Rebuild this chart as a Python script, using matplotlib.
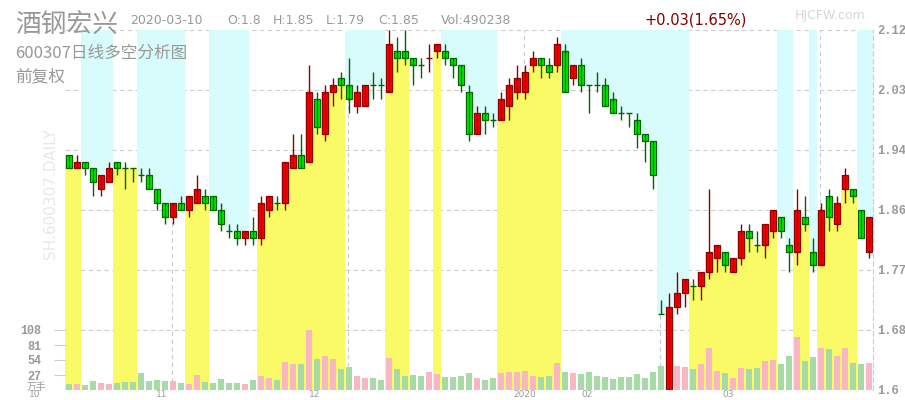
import matplotlib.pyplot as plt
from matplotlib.patches import Rectangle

plt.rcParams['font.family'] = ['DejaVu Sans', 'Noto Sans CJK SC']

# daily bars, 2019-10-11 .. 2020-03-10 (前复权)
opens = [1.94, 1.92, 1.93, 1.92, 1.89, 1.90, 1.93, 1.92, 1.92, 1.91,
         1.91, 1.89, 1.87, 1.85, 1.87, 1.86, 1.87, 1.88, 1.88, 1.86,
         1.83, 1.83, 1.82, 1.83, 1.82, 1.86, 1.87, 1.87, 1.92, 1.94,
         1.93, 2.02, 1.97, 2.03, 2.05, 2.04, 2.01, 2.01, 2.04, 2.04,
         2.03, 2.09, 2.09, 2.08, 2.07, 2.08, 2.09, 2.09, 2.08, 2.07,
         2.03, 1.97, 2.00, 1.99, 1.99, 2.01, 2.03, 2.03, 2.07, 2.08,
         2.07, 2.07, 2.09, 2.05, 2.07, 2.04, 2.04, 2.04, 2.02, 2.00,
         2.00, 1.99, 1.97, 1.96, 1.71, 1.60, 1.72, 1.74, 1.75, 1.75,
         1.77, 1.79, 1.80, 1.77, 1.79, 1.83, 1.81, 1.81, 1.83, 1.85,
         1.81, 1.80, 1.85, 1.80, 1.78, 1.88, 1.84, 1.89, 1.89, 1.86,
         1.80]
highs = [1.94, 1.94, 1.93, 1.92, 1.91, 1.93, 1.93, 1.93, 1.92, 1.92,
         1.92, 1.89, 1.87, 1.87, 1.88, 1.88, 1.91, 1.89, 1.88, 1.87,
         1.84, 1.84, 1.83, 1.85, 1.88, 1.88, 1.88, 1.93, 1.97, 1.97,
         2.07, 2.03, 2.04, 2.05, 2.06, 2.08, 2.04, 2.04, 2.06, 2.05,
         2.12, 2.11, 2.12, 2.08, 2.08, 2.10, 2.10, 2.10, 2.08, 2.07,
         2.04, 2.01, 2.01, 2.00, 2.03, 2.05, 2.07, 2.07, 2.09, 2.08,
         2.08, 2.11, 2.10, 2.07, 2.08, 2.04, 2.06, 2.05, 2.03, 2.01,
         2.00, 2.00, 1.97, 1.96, 1.73, 1.74, 1.77, 1.76, 1.76, 1.77,
         1.89, 1.81, 1.80, 1.79, 1.84, 1.84, 1.83, 1.84, 1.86, 1.85,
         1.82, 1.89, 1.88, 1.82, 1.87, 1.89, 1.88, 1.92, 1.89, 1.86,
         1.85]
lows = [1.92, 1.92, 1.91, 1.88, 1.88, 1.90, 1.91, 1.89, 1.90, 1.90,
        1.89, 1.86, 1.84, 1.84, 1.86, 1.85, 1.87, 1.86, 1.86, 1.83,
        1.82, 1.81, 1.81, 1.81, 1.81, 1.85, 1.86, 1.86, 1.92, 1.92,
        1.93, 1.97, 1.96, 2.01, 2.02, 2.00, 2.00, 2.01, 2.02, 2.02,
        2.03, 2.06, 2.07, 2.04, 2.05, 2.06, 2.08, 2.07, 2.05, 2.03,
        1.96, 1.97, 1.97, 1.98, 1.99, 1.99, 2.02, 2.02, 2.06, 2.05,
        2.05, 2.06, 2.03, 2.04, 2.03, 2.00, 2.03, 2.01, 2.00, 1.99,
        1.98, 1.95, 1.93, 1.89, 1.71, 1.60, 1.71, 1.72, 1.73, 1.73,
        1.76, 1.77, 1.77, 1.77, 1.78, 1.80, 1.80, 1.79, 1.82, 1.82,
        1.77, 1.78, 1.83, 1.77, 1.78, 1.83, 1.83, 1.87, 1.87, 1.82,
        1.79]
closes = [1.92, 1.93, 1.92, 1.90, 1.91, 1.92, 1.92, 1.92, 1.92, 1.91,
          1.89, 1.87, 1.85, 1.87, 1.86, 1.88, 1.89, 1.87, 1.86, 1.84,
          1.83, 1.82, 1.83, 1.82, 1.87, 1.88, 1.87, 1.93, 1.94, 1.92,
          2.03, 1.98, 2.03, 2.04, 2.04, 2.02, 2.03, 2.04, 2.04, 2.04,
          2.10, 2.08, 2.08, 2.07, 2.07, 2.08, 2.10, 2.08, 2.07, 2.04,
          1.97, 2.00, 1.99, 1.99, 2.02, 2.04, 2.05, 2.06, 2.08, 2.07,
          2.06, 2.10, 2.03, 2.07, 2.04, 2.04, 2.04, 2.01, 2.00, 2.00,
          2.00, 1.97, 1.96, 1.91, 1.71, 1.72, 1.74, 1.76, 1.75, 1.77,
          1.80, 1.81, 1.78, 1.79, 1.83, 1.82, 1.81, 1.84, 1.86, 1.83,
          1.80, 1.86, 1.84, 1.78, 1.86, 1.85, 1.87, 1.91, 1.88, 1.82,
          1.85]
# volume in 万手
volumes = [10.8, 10.8, 9.0, 16.0, 12.0, 11.0, 12.6, 14.4, 14.4, 30.6,
           16.0, 18.0, 16.0, 16.0, 12.6, 10.8, 27.0, 14.4, 12.6, 20.0,
           12.6, 12.6, 10.8, 18.0, 25.0, 21.6, 18.0, 50.0, 46.8, 46.8,
           108.0, 55.8, 61.0, 55.8, 37.8, 41.4, 25.0, 21.6, 21.6, 18.0,
           57.6, 37.8, 25.0, 27.0, 25.0, 32.4, 28.8, 23.4, 23.4, 25.0,
           30.6, 21.6, 18.0, 21.6, 30.6, 32.4, 32.4, 34.0, 25.0, 23.4,
           25.0, 48.6, 32.4, 30.6, 28.8, 32.4, 25.0, 23.4, 19.8, 23.4,
           23.4, 28.8, 21.6, 32.4, 43.0, 55.0, 43.0, 41.4, 37.8, 46.8,
           75.6, 34.0, 30.6, 21.6, 39.6, 37.8, 39.6, 52.0, 54.0, 46.8,
           61.0, 95.4, 52.0, 59.4, 75.6, 73.8, 61.0, 75.6, 48.6, 46.8,
           49.0]
# 多空 zones: Y = 多 (yellow), C = 空 (cyan), N = none
zones = ("YY" "CCCC" "YYY" "CCCCCC" "YYY" "CCCCC" "N" "YYYYYYYYYYY"
         "CCCCC" "YYY" "NNN" "Y" "CCCCCCC" "YYYYYYYY" "CCCCCCCCCCCCCCCC"
         "YYYYYYYYYYY" "CC" "YY" "C" "YYYYY" "CC")

price_min, price_max = 1.6, 2.12
price_ticks = [price_min + k * (price_max - price_min) / 6 for k in range(7)]
price_labels = ['1.6', '1.68', '1.77', '1.86', '1.94', '2.03', '2.12']
vol_ticks = [27, 54, 81, 108]
grid_x = [12.875, 34.875, 56.875, 73.875, 93.875]
month_labels = ['10', '11', '12', '2020', '02', '03']
month_pos = [-4.25, 11.6, 30.75, 57.0, 64.75, 82.4]

YELLOW = '#fafa66'
CYAN = '#d8fbfc'
GRID = '#cccccc'
GRAY = '#999999'

n = len(closes)
up = []
for i in range(n):
    if closes[i] > opens[i]:
        up.append(True)
    elif closes[i] < opens[i]:
        up.append(False)
    else:
        up.append(i > 0 and closes[i] > closes[i - 1])

fig = plt.figure(figsize=(9.05, 4.0), dpi=100)
rect = [65 / 905, 10 / 400, 808 / 905, 360 / 400]

# background: grid + zones
ax = fig.add_axes(rect)
ax.set_xlim(-0.5, n - 0.5)
ax.set_ylim(price_min, price_max)
for s in ['top', 'left', 'bottom']:
    ax.spines[s].set_visible(False)
ax.spines['right'].set_color(GRID)
ax.spines['right'].set_linestyle((0, (4, 3)))
ax.spines['right'].set_linewidth(0.8)
for t in price_ticks[1:]:
    ax.axhline(t, color=GRID, lw=0.8, ls=(0, (4, 3)), zorder=0)
for gx in grid_x:
    ax.axvline(gx, color=GRID, lw=0.8, ls=(0, (4, 3)), zorder=0)

for i in range(n):
    top = max(opens[i], closes[i])
    if zones[i] == 'Y':
        ax.bar(i, top - price_min, bottom=price_min, width=1.0,
               color=YELLOW, lw=0, zorder=1)
    elif zones[i] == 'C':
        ax.bar(i, price_max - top, bottom=top, width=1.0,
               color=CYAN, lw=0, zorder=1)

ax.yaxis.tick_right()
ax.set_yticks(price_ticks)
ax.set_yticklabels(price_labels, family='Liberation Mono', weight='bold',
                   size=8.7, color=GRAY)
ax.tick_params(axis='y', length=0, pad=3)
ax.set_xticks([])
for lab, pos in zip(month_labels, month_pos):
    ax.text(pos, -0.013, lab, transform=ax.get_xaxis_transform(),
            ha='center', va='center', size=6.5, color=GRAY, clip_on=False)

# volume
vax = fig.add_axes(rect, zorder=ax.get_zorder() + 1)
vax.patch.set_alpha(0)
vax.set_xlim(-0.5, n - 0.5)
vax.set_ylim(0, 648)
for s in vax.spines.values():
    s.set_visible(False)
vax.bar(range(n), volumes, width=0.75,
        color=['#f9b7c3' if u else '#a6dba6' for u in up], lw=0)
vax.set_xticks([])
vax.set_yticks(vol_ticks)
vax.set_yticklabels([str(v) for v in vol_ticks], family='Liberation Mono',
                    weight='bold', size=8.5, color=GRAY)
vax.tick_params(axis='y', length=8, width=0.8, color=GRID, pad=9)

# candles
cax = fig.add_axes(rect, zorder=ax.get_zorder() + 2)
cax.patch.set_alpha(0)
cax.set_xlim(-0.5, n - 0.5)
cax.set_ylim(price_min, price_max)
cax.axis('off')
for i in range(n):
    o, h, l, c = opens[i], highs[i], lows[i], closes[i]
    dark = '#8b0000' if up[i] else '#006400'
    fill = '#ff0000' if up[i] else '#00f000'
    cax.vlines(i, l, h, color=dark, lw=1.0)
    if o == c:
        cax.hlines(o, i - 0.42, i + 0.42, color=dark, lw=1.0)
    else:
        cax.add_patch(Rectangle((i - 0.4, min(o, c)), 0.8, abs(c - o),
                                facecolor=fill, edgecolor=dark, lw=0.9))

# header texts
def px(x, y):
    return x / 905, 1 - y / 400

fig.text(*px(15, 25), '酒钢宏兴', family='Noto Sans CJK SC', size=18.5,
         color=GRAY, va='center')
fig.text(*px(130, 20), '2020-03-10', size=9, color=GRAY, va='center')
for x, s in [(227, 'O:1.8'), (273, 'H:1.85'), (326, 'L:1.79'),
             (378, 'C:1.85'), (441, 'Vol:490238')]:
    fig.text(*px(x, 20), s, size=9, color=GRAY, va='center')
fig.text(*px(645, 20), '+0.03(1.65%)', size=10.5, color='#800000',
         va='center')
fig.text(*px(795, 16), 'HJCFW.com', size=9, color='#d6d6d6', va='center')
fig.text(*px(15, 53), '600307日线多空分析图', family='Noto Sans CJK SC',
         size=12, color=GRAY, va='center')
fig.text(*px(15, 77), '前复权', family='Noto Sans CJK SC', size=12,
         color=GRAY, va='center')
fig.text(*px(36, 387), '万手', family='Noto Sans CJK SC', size=7,
         color=GRAY, va='center', ha='center')
fig.text(*px(51, 194), 'SH.600307.DAILY', size=11, color='#e8e8e8',
         rotation=90, ha='center', va='center')

fig.savefig('out.png', dpi=100)
